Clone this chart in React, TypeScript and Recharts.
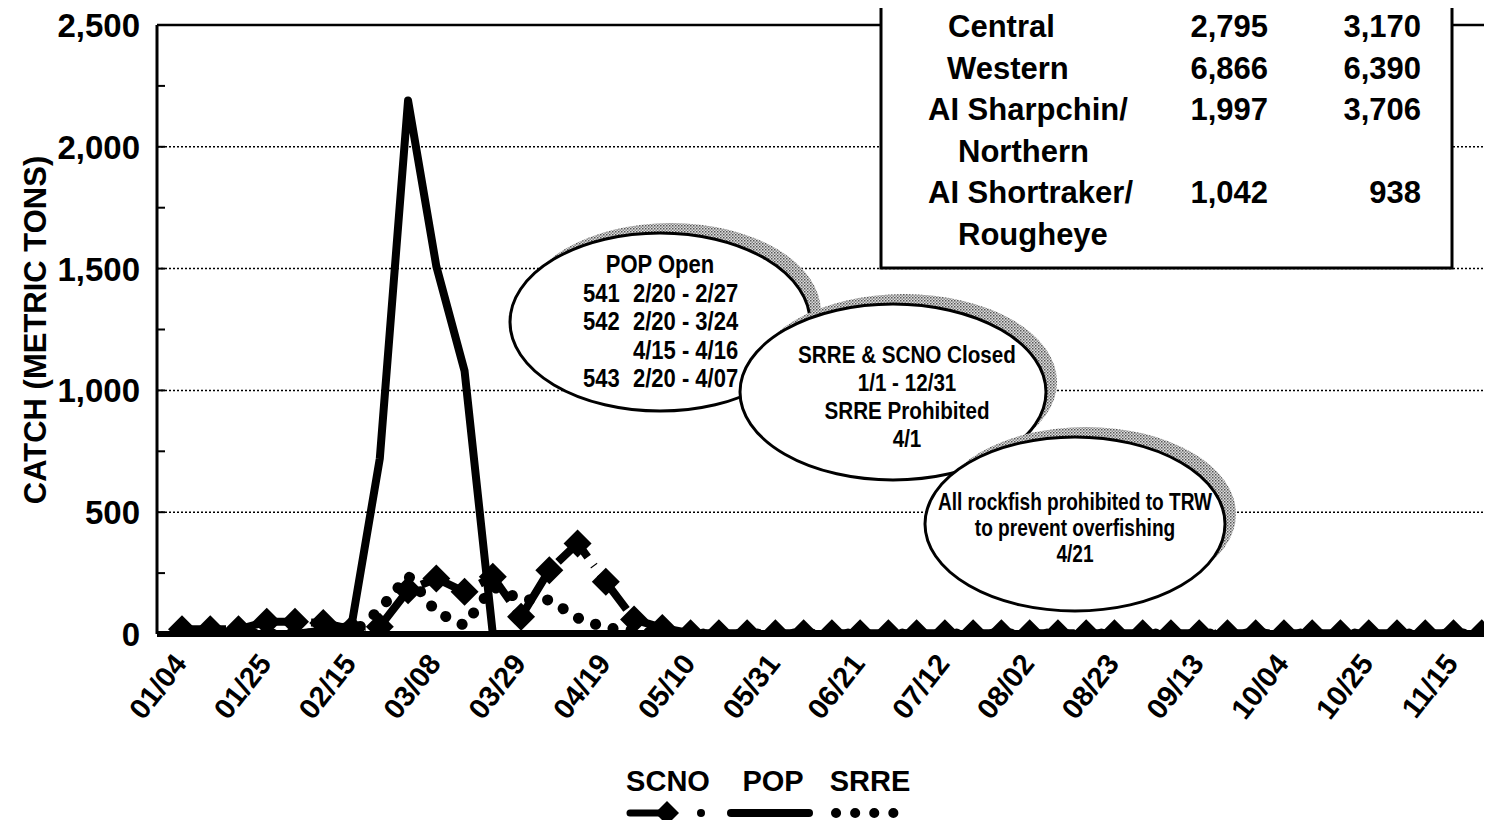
import React from 'react';
import { LineChart, Line, XAxis, YAxis, ReferenceLine } from 'recharts';

// ---------- data ----------
const weeks = ['01/04','01/11','01/18','01/25','02/01','02/08','02/15','02/22','03/01','03/08','03/15','03/22','03/29','04/05','04/12','04/19','04/26','05/03','05/10','05/17','05/24','05/31','06/07','06/14','06/21','06/28','07/05','07/12','07/19','07/26','08/02','08/09','08/16','08/23','08/30','09/06','09/13','09/20','09/27','10/04','10/11','10/18','10/25','11/01','11/08','11/15','11/22','11/29'];

const scno = [20,20,20,50,50,45,20,30,180,228,173,235,71,262,372,214,60,25,3,3,3,3,3,3,3,3,3,3,3,3,3,3,3,3,3,3,3,3,3,3,3,3,3,3,3,3,3,3];
const pop = [0,0,0,0,0,15,35,720,2190,1510,1080,0,0,0,0,0,0,0,0,0,0,0,0,0,0,0,0,0,0,0,0,0,0,0,0,0,0,0,0,0,0,0,0,0,0,0,0,0];
const srre = [0,0,0,0,0,0,0,100,240,90,35,195,141,140,66,25,15,0,0,0,0,0,0,0,0,0,0,0,0,0,0,0,0,0,0,0,0,0,0,0,0,0,0,0,0,0,0,0];

const yTicks = [0,250,500,750,1000,1250,1500,1750,2000,2250,2500];
const gridValues = [500,1000,1500,2000];

const tableRows = [
  { name: 'Central', x: 948, a: '2,795', b: '3,170' },
  { name: 'Western', x: 947, a: '6,866', b: '6,390' },
  { name: 'AI Sharpchin/', x: 928, a: '1,997', b: '3,706' },
  { name: 'Northern', x: 958, a: '', b: '' },
  { name: 'AI Shortraker/', x: 928, a: '1,042', b: '938' },
  { name: 'Rougheye', x: 958, a: '', b: '' },
];

const notes = [
  { cx: 660, cy: 322, rx: 150, ry: 89, lines: [
    { t: 'POP Open', x: 660, anchor: 'middle' },
    { t: '541', x: 583, anchor: 'start', t2: '2/20 - 2/27' },
    { t: '542', x: 583, anchor: 'start', t2: '2/20 - 3/24' },
    { t: '', x: 583, anchor: 'start', t2: '4/15 - 4/16' },
    { t: '543', x: 583, anchor: 'start', t2: '2/20 - 4/07' },
  ], y0: 273, dy: 28.5, fs: 25, sx: 0.88, gap: 50 },
  { cx: 893, cy: 392, rx: 153, ry: 88, lines: [
    { t: 'SRRE & SCNO Closed', x: 907, anchor: 'middle' },
    { t: '1/1 - 12/31', x: 907, anchor: 'middle' },
    { t: 'SRRE Prohibited', x: 907, anchor: 'middle' },
    { t: '4/1', x: 907, anchor: 'middle' },
  ], y0: 363, dy: 28, fs: 24, sx: 0.86, gap: 0 },
  { cx: 1075, cy: 524, rx: 150, ry: 87, lines: [
    { t: 'All rockfish prohibited to TRW', x: 1075, anchor: 'middle' },
    { t: 'to prevent overfishing', x: 1075, anchor: 'middle' },
    { t: '4/21', x: 1075, anchor: 'middle' },
  ], y0: 510, dy: 26, fs: 23, sx: 0.83, gap: 0 },
];

const data = weeks.map((w, i) => ({ week: w, SCNO: scno[i], POP: pop[i], SRRE: srre[i] }));

// ---------- layout ----------
const CW = 1560;
const CH = 828;
const MARGIN_BOTTOM = 94;
const XAXIS_H = 100;
const PLOT_BOTTOM = CH - MARGIN_BOTTOM - XAXIS_H;
const AXIS_X = 157;
const FONT = '"Liberation Sans", Arial, Helvetica, sans-serif';

function DiamondDot(props: any) {
  const { cx, cy, index } = props;
  if (cx == null || cy == null) return <g key={`d${index}`} />;
  const r = 14;
  const B = PLOT_BOTTOM;
  let d: string;
  if (cy + r <= B) {
    d = `M${cx},${cy - r}L${cx + r},${cy}L${cx},${cy + r}L${cx - r},${cy}Z`;
  } else if (cy <= B) {
    const hw = r - (B - cy);
    d = `M${cx},${cy - r}L${cx + r},${cy}L${cx + hw},${B}L${cx - hw},${B}L${cx - r},${cy}Z`;
  } else {
    const hw = r - (cy - B);
    if (hw <= 0) return <g key={`d${index}`} />;
    d = `M${cx},${cy - r}L${cx + hw},${B}L${cx - hw},${B}Z`;
  }
  return <path key={`d${index}`} d={d} fill="#000" />;
}

function YTick(props: any) {
  const { y, payload } = props;
  const v = payload.value as number;
  return (
    <g>
      <line x1={AXIS_X} x2={AXIS_X + 8} y1={y} y2={y} stroke="#000" strokeWidth={2} />
      {v % 500 === 0 && (
        <text x={AXIS_X - 17} y={y} dy={12} textAnchor="end" fontSize={33} fontFamily={FONT} fontWeight="bold" fill="#000">
          {v.toLocaleString('en-US')}
        </text>
      )}
    </g>
  );
}

function XTick(props: any) {
  const { x, payload } = props;
  const ax = x + 6;
  const ay = 664;
  return (
    <text x={ax} y={ay} transform={`rotate(-52 ${ax} ${ay})`} textAnchor="end" fontSize={29} fontFamily={FONT} fontWeight="bold" fill="#000">
      {payload.value}
    </text>
  );
}

function NarrowText({ x, y, anchor, size, sx, children }: any) {
  return (
    <text
      x={0}
      y={0}
      transform={`translate(${x} ${y}) scale(${sx} 1)`}
      textAnchor={anchor}
      fontFamily={FONT}
      fontWeight="bold"
      fontSize={size}
      fill="#000"
    >
      {children}
    </text>
  );
}

function Overlay() {
  return (
    <svg width={1492} height={828} style={{ position: 'absolute', left: 0, top: 0, pointerEvents: 'none' }}>
      <defs>
        <pattern id="stip" width="3" height="3" patternUnits="userSpaceOnUse">
          <rect width="3" height="3" fill="#ddd" />
          <rect width="1.5" height="1.5" fill="#555" />
          <rect x="1.5" y="1.5" width="1.5" height="1.5" fill="#888" />
        </pattern>
      </defs>
      {/* table box */}
      <rect x={881} y={-20} width={571} height={288} fill="#fff" stroke="#000" strokeWidth={3} />
      {tableRows.map((r, i) => {
        const by = 37 + i * 41.6;
        return (
          <g key={r.name} fontFamily={FONT} fontWeight="bold" fontSize={31} fill="#000">
            <text x={r.x} y={by}>{r.name}</text>
            {r.a && <text x={1268} y={by} textAnchor="end">{r.a}</text>}
            {r.b && <text x={1421} y={by} textAnchor="end">{r.b}</text>}
          </g>
        );
      })}
      {/* callout ellipses */}
      {notes.map((n, k) => (
        <g key={k}>
          <ellipse cx={n.cx + 11} cy={n.cy - 10} rx={n.rx} ry={n.ry} fill="url(#stip)" />
          <ellipse cx={n.cx} cy={n.cy} rx={n.rx} ry={n.ry} fill="#fff" stroke="#000" strokeWidth={3} />
          {n.lines.map((l: any, j: number) => (
            <g key={j}>
              {l.t && <NarrowText x={l.x} y={n.y0 + j * n.dy} anchor={l.anchor} size={n.fs} sx={n.sx}>{l.t}</NarrowText>}
              {l.t2 && <NarrowText x={l.x + n.gap} y={n.y0 + j * n.dy} anchor="start" size={n.fs} sx={n.sx}>{l.t2}</NarrowText>}
            </g>
          ))}
        </g>
      ))}
      {/* axis title */}
      <text x={0} y={0} transform="translate(46 330) rotate(-90)" textAnchor="middle" fontSize={31} fontFamily={FONT} fontWeight="bold" fill="#000">
        CATCH (METRIC TONS)
      </text>
      {/* legend */}
      <g fontFamily={FONT} fontWeight="bold" fontSize={29} fill="#000">
        <text x={668} y={791} textAnchor="middle">SCNO</text>
        <text x={773} y={791} textAnchor="middle">POP</text>
        <text x={870} y={791} textAnchor="middle">SRRE</text>
      </g>
      <line x1={630} x2={660} y1={813} y2={813} stroke="#000" strokeWidth={7} strokeLinecap="round" />
      <path d="M667,801L679,813L667,825L655,813Z" fill="#000" />
      <circle cx={701} cy={813} r={4} fill="#000" />
      <line x1={731} x2={809} y1={813} y2={813} stroke="#000" strokeWidth={8} strokeLinecap="round" />
      <line x1={836} x2={912} y1={813} y2={813} stroke="#000" strokeWidth={10} strokeLinecap="round" strokeDasharray="0.1 19" />
    </svg>
  );
}

export default function App() {
  return (
    <div style={{ position: 'relative', width: 1492, height: 828, overflow: 'hidden', margin: -8, background: '#fff' }}>
      <LineChart width={CW} height={CH} data={data} margin={{ top: 25, right: 25, left: 0, bottom: MARGIN_BOTTOM }}>
        {gridValues.map((v) => (
          <ReferenceLine key={v} y={v} stroke="#000" strokeWidth={1.5} strokeDasharray="2 2" />
        ))}
        <ReferenceLine y={2500} stroke="#000" strokeWidth={2.5} />
        <XAxis
          dataKey="week"
          interval={2}
          padding={{ left: 25, right: 25 }}
          height={XAXIS_H}
          tickLine={false}
          axisLine={{ stroke: '#000', strokeWidth: 6 }}
          tick={<XTick />}
        />
        <YAxis
          width={157}
          domain={[0, 2500]}
          allowDataOverflow
          ticks={yTicks}
          interval={0}
          tickLine={false}
          axisLine={{ stroke: '#000', strokeWidth: 3 }}
          tick={<YTick />}
        />
        <Line
          dataKey="SRRE"
          stroke="#000"
          strokeWidth={11}
          strokeLinecap="round"
          strokeDasharray="0.1 18"
          dot={false}
          isAnimationActive={false}
        />
        <Line
          dataKey="SCNO"
          stroke="#000"
          strokeWidth={8}
          strokeDasharray="44 10 1 10"
          dot={<DiamondDot />}
          activeDot={false}
          isAnimationActive={false}
        />
        <Line
          dataKey="POP"
          stroke="#000"
          strokeWidth={8}
          strokeLinejoin="round"
          strokeLinecap="round"
          dot={false}
          isAnimationActive={false}
        />
      </LineChart>
      <Overlay />
    </div>
  );
}
